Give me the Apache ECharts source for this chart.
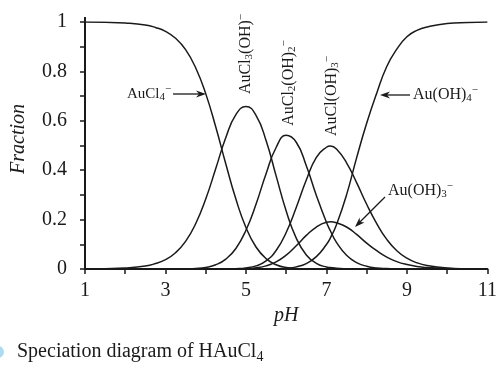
<!DOCTYPE html>
<html>
<head>
<meta charset="utf-8">
<script src="https://cdn.jsdelivr.net/npm/echarts@6/dist/echarts.min.js"></script>
<style>
  html, body { margin: 0; padding: 0; background: #fff; }
  #chart { width: 500px; height: 371px; }
</style>
</head>
<body>
<div id="chart"></div>
<script>
// pH grid and the fraction of each gold species
const pH = [1, 1.5, 2, 2.5, 2.75, 3, 3.25, 3.5, 3.75, 4, 4.25, 4.5, 4.75, 5, 5.25, 5.5, 5.75, 6,
  6.25, 6.5, 6.75, 7, 7.1, 7.25, 7.5, 7.75, 8, 8.25, 8.5, 8.75, 9, 9.25, 9.5, 10, 10.5, 11];
const auCl4 = [1.0, 0.999, 0.996, 0.988, 0.978, 0.962, 0.934, 0.888, 0.815, 0.71, 0.575, 0.425, 0.283,
  0.168, 0.089, 0.042, 0.017, 0.006, 0.002, 0.0005, 0, 0, 0, 0, 0, 0, 0, 0, 0, 0, 0, 0, 0, 0, 0, 0];
const auCl3OH = [0.0004, 0.0013, 0.004, 0.012, 0.022, 0.038, 0.066, 0.112, 0.183, 0.283, 0.407, 0.532,
  0.625, 0.658, 0.622, 0.52, 0.377, 0.235, 0.125, 0.057, 0.023, 0.008, 0.006, 0.003, 0.001, 0, 0, 0,
  0, 0, 0, 0, 0, 0, 0, 0];
const auCl2OH2 = [0, 0, 0, 0, 0, 0.0001, 0.0003, 0.001, 0.0024, 0.0066, 0.017, 0.04, 0.083, 0.157,
  0.262, 0.386, 0.492, 0.541, 0.513, 0.418, 0.298, 0.189, 0.154, 0.108, 0.056, 0.026, 0.011, 0.004,
  0.0016, 0.0005, 0, 0, 0, 0, 0, 0];
const auClOH3 = [0, 0, 0, 0, 0, 0, 0, 0, 0, 0, 0.0001, 0.0003, 0.0012, 0.0042, 0.0126, 0.033, 0.075,
  0.148, 0.249, 0.36, 0.452, 0.493, 0.498, 0.486, 0.43, 0.35, 0.262, 0.184, 0.12, 0.074, 0.044, 0.025,
  0.014, 0.004, 0.001, 0];
const auOH3 = [0, 0, 0, 0, 0, 0, 0, 0, 0, 0, 0, 0, 0, 0.0016, 0.0048, 0.0126, 0.0287, 0.056, 0.094,
  0.136, 0.17, 0.189, 0.191, 0.187, 0.17, 0.14, 0.105, 0.074, 0.048, 0.03, 0.018, 0.01, 0.006, 0.002,
  0.0006, 0.0002];
const auOH4 = [0, 0, 0, 0, 0, 0, 0, 0, 0, 0, 0, 0, 0, 0, 0, 0.0002, 0.0008, 0.003, 0.0086, 0.022, 0.05,
  0.099, 0.126, 0.179, 0.30, 0.45, 0.59, 0.712, 0.82, 0.89, 0.94, 0.966, 0.98, 0.994, 0.998, 0.9995];

const curves = [
  { name: 'AuCl4-', vals: auCl4 },
  { name: 'AuCl3(OH)-', vals: auCl3OH },
  { name: 'AuCl2(OH)2-', vals: auCl2OH2 },
  { name: 'AuCl(OH)3-', vals: auClOH3 },
  { name: 'Au(OH)3-', vals: auOH3 },
  { name: 'Au(OH)4-', vals: auOH4 }
];

const serif = '"Liberation Serif", "DejaVu Serif", serif';
const ink = '#1a1a1a';

// rich text for formulas with sub/superscripts
function richFor(size) {
  const s = Math.round(size * 0.7);
  return {
    m: { fontFamily: serif, fontSize: size, lineHeight: 20, fill: ink },
    sub: { fontFamily: serif, fontSize: s, lineHeight: s, padding: [20 - s - 1, 0, 1, 0], fill: ink },
    sup: { fontFamily: serif, fontSize: s, lineHeight: s, padding: [0, 0, 20 - s, 0], fill: ink }
  };
}

function label(text, x, y, rotated, align, size) {
  return {
    type: 'text', x: x, y: y, rotation: rotated ? Math.PI / 2 : 0, silent: true,
    style: { text: text, rich: richFor(size || 16), align: align || 'center', verticalAlign: 'middle' }
  };
}

function arrow(x1, y1, x2, y2) {
  // head sits on (x2, y2)
  const len = Math.hypot(x2 - x1, y2 - y1);
  const dx = (x2 - x1) / len, dy = (y2 - y1) / len;
  const bx = x2 - 10 * dx, by = y2 - 10 * dy;
  const nx = x2 - 7 * dx, ny = y2 - 7 * dy;
  return [
    { type: 'line', silent: true, shape: { x1: x1, y1: y1, x2: nx, y2: ny },
      style: { stroke: ink, lineWidth: 1.3 } },
    { type: 'polygon', silent: true,
      shape: { points: [[x2, y2], [bx - 3.5 * dy, by + 3.5 * dx], [nx, ny], [bx + 3.5 * dy, by - 3.5 * dx]] },
      style: { fill: ink } }
  ];
}

const chart = echarts.init(document.getElementById('chart'));

const option = {
  animation: false,
  grid: { left: 85, right: 9, top: 22, bottom: 102 },
  xAxis: {
    type: 'value', min: 1, max: 11, interval: 1,
    name: 'pH', nameLocation: 'middle', nameGap: 37,
    nameTextStyle: { fontFamily: serif, fontStyle: 'italic', fontSize: 20, color: ink },
    axisLine: { lineStyle: { color: ink, width: 2 } },
    axisTick: { length: 5, lineStyle: { color: ink, width: 1.5 } },
    axisLabel: {
      margin: 12, fontFamily: serif, fontSize: 20, color: ink,
      formatter: v => (Math.round(v) % 2 === 1 ? String(Math.round(v)) : '')
    },
    splitLine: { show: false }
  },
  yAxis: {
    type: 'value', min: 0, max: 1, interval: 0.1,
    axisLine: { show: true, lineStyle: { color: ink, width: 2 } },
    axisTick: { show: true, length: 5, lineStyle: { color: ink, width: 1.5 } },
    axisLabel: {
      margin: 18, fontFamily: serif, fontSize: 20, color: ink,
      formatter: v => {
        const k = Math.round(v * 10);
        if (k % 2) return '';
        return k === 0 ? '0' : k === 10 ? '1' : (k / 10).toFixed(1);
      }
    },
    splitLine: { show: false }
  },
  series: curves.map(c => ({
    name: c.name,
    type: 'line',
    data: pH.map((x, i) => [x, c.vals[i]]),
    showSymbol: false,
    smooth: true,
    silent: true,
    lineStyle: { color: ink, width: 1.5 }
  })),
  graphic: [
    // small stub of the y axis above 1
    { type: 'line', silent: true, shape: { x1: 85, y1: 17, x2: 85, y2: 23 },
      style: { stroke: ink, lineWidth: 2 } },
    {
      type: 'text', x: 19, y: 139, rotation: Math.PI / 2, silent: true,
      style: { text: 'Fraction', fontFamily: serif, fontStyle: 'italic', fontSize: 20, fill: ink,
        align: 'center', verticalAlign: 'middle' }
    },
    label('{m|AuCl}{sub|4}{sup|\u2212}', 127, 94, false, 'left', 15),
    ...arrow(173, 94, 206, 94),
    label('{m|AuCl}{sub|3}{m|(OH)}{sup|\u2212}', 246, 54, true),
    label('{m|AuCl}{sub|2}{m|(OH)}{sub|2}{sup|\u2212}', 289, 83, true),
    label('{m|AuCl(OH)}{sub|3}{sup|\u2212}', 332, 96, true),
    label('{m|Au(OH)}{sub|4}{sup|\u2212}', 413, 95, false, 'left'),
    ...arrow(410, 95, 380, 95),
    label('{m|Au(OH)}{sub|3}{sup|\u2212}', 388, 191, false, 'left'),
    ...arrow(385, 197, 355, 227),
    {
      type: 'circle', silent: true, shape: { cx: -2, cy: 352, r: 6 },
      style: { fill: '#a9dcef' }
    },
    {
      type: 'text', x: 17, y: 352, silent: true,
      style: {
        text: '{c|Speciation diagram of HAuCl}{s|4}',
        align: 'left', verticalAlign: 'middle',
        rich: {
          c: { fontFamily: serif, fontSize: 20, lineHeight: 24, fill: ink },
          s: { fontFamily: serif, fontSize: 14, lineHeight: 14, padding: [10, 0, 0, 0], fill: ink }
        }
      }
    }
  ]
};

chart.setOption(option);
</script>
</body>
</html>
